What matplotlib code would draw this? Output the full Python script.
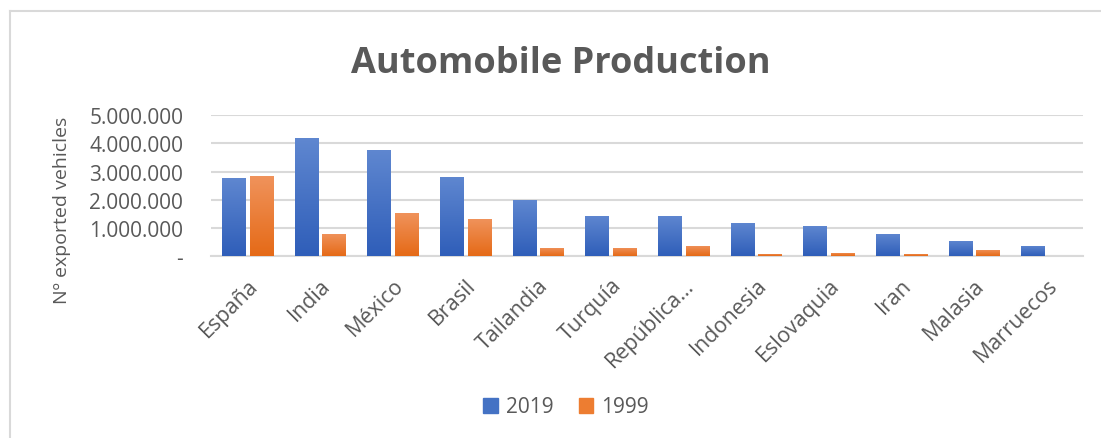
import numpy as np
import matplotlib
matplotlib.use('Agg')
import matplotlib.pyplot as plt
from matplotlib.colors import LinearSegmentedColormap
from matplotlib.ticker import FuncFormatter
from matplotlib.patches import Patch
from matplotlib.lines import Line2D

# Vehicle production by country, 2019 vs 1999
countries = ['España', 'India', 'México', 'Brasil', 'Tailandia', 'Turquía',
             'República…', 'Indonesia', 'Eslovaquia', 'Iran', 'Malasia', 'Marruecos']
prod_2019 = [2770000, 4180000, 3760000, 2800000, 1990000, 1420000,
             1420000, 1180000, 1070000, 790000, 540000, 360000]
prod_1999 = [2840000, 790000, 1530000, 1320000, 290000, 290000,
             360000, 80000, 120000, 80000, 220000, 15000]
yticks = [0, 1000000, 2000000, 3000000, 4000000, 5000000]

plt.rcParams['font.family'] = ['Open Sans', 'DejaVu Sans']
text_color = '#595959'
grid_color = '#D9D9D9'

fig = plt.figure(figsize=(11.01, 4.39), dpi=100)
ax = fig.add_axes([211 / 1101, 1 - 257.3 / 439, 872 / 1101, (257.3 - 116) / 439])

x = np.arange(len(countries))
width = 0.32
bars_a = ax.bar(x - 0.19, prod_2019, width, color='#4472C4', zorder=3, label='2019')
bars_b = ax.bar(x + 0.19, prod_1999, width, color='#ED7D31', zorder=3, label='1999')

# Excel-like vertical gradient on each bar
cmap_a = LinearSegmentedColormap.from_list('a', ['#2F5EB9', '#5F87D0'])
cmap_b = LinearSegmentedColormap.from_list('b', ['#E56A17', '#F0935C'])
grad = np.linspace(0, 1, 64).reshape(-1, 1)
for bars, cm in ((bars_a, cmap_a), (bars_b, cmap_b)):
    for b in bars:
        x0, y0 = b.get_x(), b.get_y()
        w, h = b.get_width(), b.get_height()
        im = ax.imshow(grad, cmap=cm, origin='lower', aspect='auto',
                       extent=(x0, x0 + w, y0, y0 + h), zorder=4)
        im.set_clip_path(b)

ax.set_xlim(-0.5, len(countries) - 0.5)
ax.set_ylim(0, 5000000)
ax.set_yticks(yticks)
ax.yaxis.set_major_formatter(FuncFormatter(
    lambda v, p: '-' if v == 0 else f'{int(v):,}'.replace(',', '.')))
ax.grid(axis='y', color=grid_color, linewidth=1.5, zorder=0)
for s in ['top', 'right', 'left']:
    ax.spines[s].set_visible(False)
ax.spines['bottom'].set_color(grid_color)
ax.spines['bottom'].set_linewidth(1.5)
ax.tick_params(axis='both', length=0, colors=text_color, labelsize=15)
ax.tick_params(axis='y', pad=20)
ax.set_xticks(x)
ax.set_xticklabels(countries, rotation=45, ha='right', rotation_mode='anchor', fontsize=15.5)
ax.tick_params(axis='x', pad=13)

fig.text(62 / 1101, 1 - 210 / 439, 'Nº exported vehicles', rotation=90,
         ha='center', va='center', color=text_color, fontsize=14)
fig.text(561 / 1101, 1 - 72.7 / 439, 'Automobile Production', ha='center',
         va='baseline', color=text_color, fontsize=26, fontweight='bold')

handles = [Patch(color='#4472C4', label='2019'), Patch(color='#ED7D31', label='1999')]
fig.legend(handles=handles, loc='center', bbox_to_anchor=(566 / 1101, 1 - 408 / 439),
           ncol=2, frameon=False, fontsize=15, labelcolor=text_color,
           handlelength=0.7, handleheight=0.7, handletextpad=0.4, columnspacing=1.2)

# chart border (left and top edges visible in the reference)
fig.add_artist(Line2D([9.5 / 1101, 9.5 / 1101], [0, 1 - 11.5 / 439], color=grid_color, lw=1.5))
fig.add_artist(Line2D([9.5 / 1101, 1], [1 - 11.5 / 439, 1 - 11.5 / 439], color=grid_color, lw=1.5))

fig.savefig('out.png', dpi=100)
